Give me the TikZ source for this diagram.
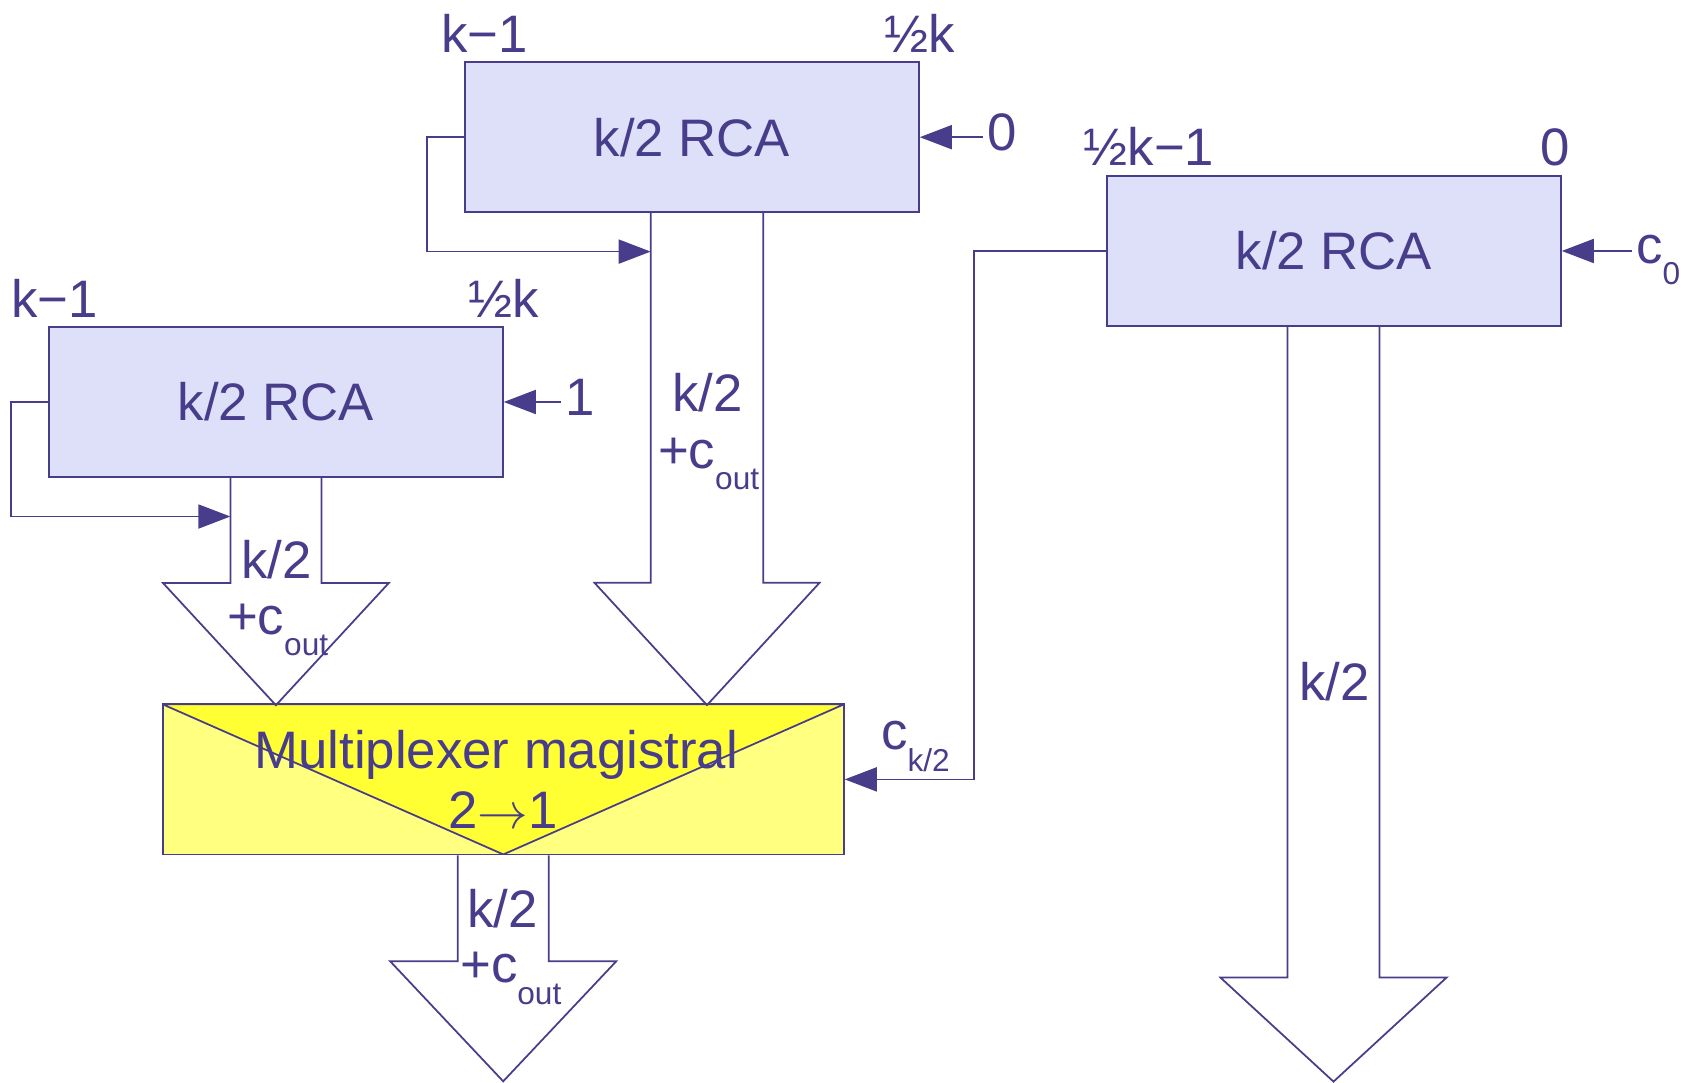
\documentclass[tikz,border=0pt]{standalone}
\usepackage{fontspec}
\setmainfont{Liberation Sans}
\usepackage{xcolor}
\usepackage{tikz}
\usetikzlibrary{positioning,arrows.meta,calc}
\definecolor{rcaink}{RGB}{72,61,139}
\definecolor{rcafill}{RGB}{222,223,249}
\definecolor{muxlight}{RGB}{255,255,128}
\definecolor{muxbright}{RGB}{255,255,51}
\newcommand{\lowsub}[1]{\raisebox{-6pt}{\fontsize{9}{11}\selectfont #1}}
\newcommand{\busarrow}[5]{\draw[bus] #1 -- ++(0,#3) -- ++({-(#4-#2)/2},0) -- ++({#4/2},#5) -- ++({#4/2},-#5) -- ++({-(#4-#2)/2},0) -- ++(0,-#3);}
\tikzset{
  rca/.style={draw=rcaink, line width=0.5pt, fill=rcafill, minimum width=4.535cm, minimum height=1.5cm, inner sep=0pt, text=rcaink, font=\fontsize{15}{17}\selectfont},
  mux/.style={draw=rcaink, line width=0.5pt, fill=muxlight, minimum width=6.807cm, minimum height=1.5cm, inner sep=0pt, align=center, text=rcaink, font=\fontsize{15}{17}\selectfont,
    path picture={\draw[rcaink, line width=0.5pt, fill=muxbright] (path picture bounding box.north west) -- (path picture bounding box.north east) -- (path picture bounding box.south) -- cycle;}},
  lbl/.style={inner sep=1pt, text=rcaink, font=\fontsize{15}{17}\selectfont},
  arr/.style={-{Triangle[length=3.2mm, width=2.4mm]}, line width=0.5pt, draw=rcaink},
  bus/.style={line width=0.5pt, draw=rcaink},
}

\begin{document}
\begin{tikzpicture}[x=0.01cm, y=-0.01cm]
    \useasboundingbox (0,0) rectangle (1681,1083);
    \node[rca] (b1) at (692,137.2) {k/2 RCA};
    \node[rca] (b2) at (1334,251) {k/2 RCA};
    \node[rca] (b3) at (276,402) {k/2 RCA};
    \node[mux] (mux) at (503.3,779.4) {Multiplexer magistral\kern4pt\\2$\rightarrow$1};
    % bit ranges
    \node[lbl, anchor=base] (b1hi) at (484.5,52.5) {k−1};
    \node[lbl, anchor=base] (b1lo) at (919.8,52.5) {½k};
    \node[lbl, anchor=base] (b2hi) at (1149,166) {½k−1};
    \node[lbl, anchor=base] (b2lo) at (1555.5,166) {0};
    \node[lbl, anchor=base] (b3hi) at (54.7,317.3) {k−1};
    \node[lbl, anchor=base] (b3lo) at (504,317.3) {½k};
    % carry inputs
    \node[lbl, anchor=base] (in1) at (1002,151) {0};
    \node[lbl, anchor=base] (in3) at (580,416) {1};
    \node[lbl, anchor=base west] (in2) at (1632,263.7) {c\lowsub{0}};
    \draw[arr] (in1.west |- b1.east) -- (b1.east);
    \draw[arr] (in3.west |- b3.east) -- (b3.east);
    \draw[arr] (in2.west |- b2.east) -- (b2.east);
    \draw[arr] (b1.west) -- ++(-37.5,0) |- ($(b1.south)+(-41.3,38.5)$);
    \draw[arr] (b3.west) -- ++(-37.5,0) |- ($(b3.south)+(-45.6,38.6)$);
    \draw[arr] (b2.west) -- ++(-132,0) |- (mux.east);
    \node[lbl, anchor=base west] (ck) at (877,750) {c\lowsub{k/2}};
    % buses
    \busarrow{($(b1.south)+(-41.3,0)$)}{112.6}{369.7}{225}{122.3}
    \busarrow{($(b3.south)+(-45.6,0)$)}{91}{105}{226}{122.3}
    \busarrow{($(mux.south)+(-45.6,0)$)}{91}{106}{226}{120}
    \busarrow{($(b2.south)+(-46.5,0)$)}{92}{650.7}{226}{104}
    \node[lbl, anchor=base] (w1) at (707.5,411.6) {k/2};
    \node[lbl, anchor=base] (w1c) at (708.6,468.5) {+c\lowsub{out}};
    \node[lbl, anchor=base] (w3) at (276.6,579) {k/2};
    \node[lbl, anchor=base] (w3c) at (277.6,634.6) {+c\lowsub{out}};
    \node[lbl, anchor=base] (wm) at (502.8,928) {k/2};
    \node[lbl, anchor=base] (wmc) at (510.8,983) {+c\lowsub{out}};
    \node[lbl, anchor=base] (w2) at (1334.6,701) {k/2};
\end{tikzpicture}
\end{document}
